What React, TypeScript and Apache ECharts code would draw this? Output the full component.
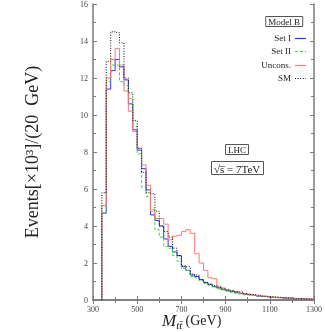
import React, { useEffect, useRef } from "react";
import * as echarts from "echarts";

const binStart = 340;
const binWidth = 20;

const smValues = [5.8, 12.9, 14.5, 14.45, 13.9, 12.0, 11.2, 9.7, 8.2, 6.9, 5.8, 5.75, 4.8, 4.0, 3.7, 3.4, 2.8, 2.4, 1.85, 1.8, 1.4, 1.35, 1.1, 0.95, 0.85, 0.78, 0.68, 0.6, 0.55, 0.5, 0.45, 0.42, 0.35, 0.3, 0.28, 0.25, 0.2, 0.2, 0.17, 0.15, 0.13, 0.12, 0.1, 0.08, 0.07, 0.06, 0.05, 0.04];
const setIValues = [4.7, 11.4, 12.4, 13.0, 12.6, 11.9, 10.6, 9.2, 8.1, 7.1, 5.95, 4.6, 4.3, 4.0, 3.3, 2.9, 2.6, 2.4, 1.8, 1.6, 1.35, 1.27, 1.1, 0.95, 0.85, 0.72, 0.65, 0.58, 0.5, 0.45, 0.4, 0.35, 0.3, 0.27, 0.25, 0.2, 0.2, 0.18, 0.14, 0.14, 0.12, 0.1, 0.1, 0.07, 0.07, 0.05, 0.05, 0.04];
const setIIValues = [4.7, 11.8, 12.7, 12.7, 11.8, 11.6, 10.9, 9.4, 7.9, 6.1, 5.6, 4.9, 3.8, 3.4, 2.9, 2.8, 2.4, 2.1, 1.7, 1.6, 1.27, 1.2, 1.05, 0.9, 0.8, 0.7, 0.6, 0.55, 0.48, 0.42, 0.37, 0.33, 0.28, 0.25, 0.22, 0.2, 0.17, 0.15, 0.13, 0.12, 0.1, 0.09, 0.08, 0.06, 0.05, 0.05, 0.04, 0.03];
const unconsValues = [5.1, 12.0, 13.0, 13.6, 12.7, 11.3, 10.2, 9.1, 8.2, 7.3, 6.2, 4.8, 4.4, 4.4, 4.1, 3.25, 3.45, 3.5, 3.7, 3.8, 3.6, 2.5, 2.0, 1.6, 1.2, 1.15, 0.75, 0.65, 0.55, 0.5, 0.45, 0.38, 0.33, 0.3, 0.26, 0.22, 0.2, 0.18, 0.15, 0.13, 0.12, 0.1, 0.09, 0.08, 0.07, 0.06, 0.05, 0.04];

const seriesNames = ["Set I", "Set II", "Uncons.", "SM"];

const FONT = "'Liberation Serif', 'DejaVu Serif', serif";

function toSteps(vals: number[]): number[][] {
  const pts: number[][] = [[binStart, 0]];
  vals.forEach((v, i) => {
    pts.push([binStart + binWidth * i, v]);
  });
  pts.push([binStart + binWidth * vals.length, vals[vals.length - 1]]);
  return pts;
}

export default function App() {
  const ref = useRef<HTMLDivElement>(null);
  useEffect(() => {
    if (!ref.current) return;
    const chart = echarts.init(ref.current, undefined, { renderer: "svg" });
    const axisCol = "#7a7a7a";
    const labelStyle = { fontFamily: FONT, fontSize: 8, color: "#444", formatter: (v: number) => String(v) };
    const baseX = {
      type: "value",
      min: 300,
      max: 1300,
      interval: 200,
      axisLine: { show: true, lineStyle: { color: axisCol, width: 1.5 } },
      axisTick: { show: true, inside: true, length: 4, lineStyle: { color: axisCol } },
      minorTick: { show: true, splitNumber: 2, length: 3, lineStyle: { color: axisCol } },
      splitLine: { show: false },
    };
    const baseY = {
      type: "value",
      min: 0,
      max: 16,
      interval: 2,
      axisLine: { show: true, lineStyle: { color: axisCol, width: 1.5 } },
      axisTick: { show: true, inside: true, length: 4, lineStyle: { color: axisCol } },
      minorTick: { show: true, splitNumber: 2, length: 3, lineStyle: { color: axisCol } },
      splitLine: { show: false },
    };
    const colors = ["#2f2fff", "#33dd33", "#ff7777", "#111111"];
    const lineTypes: any[] = ["solid", [3, 2], "solid", [1, 1.6]];
    const datasets = [setIValues, setIIValues, unconsValues, smValues];
    const legendGraphics: any[] = [];
    seriesNames.forEach((name, i) => {
      const y = 37.5 + 13.6 * i;
      legendGraphics.push({
        type: "text",
        x: 291,
        y,
        style: {
          text: name,
          fontFamily: FONT,
          fontSize: 9,
          fill: "#222",
          textAlign: "right",
          textVerticalAlign: "middle",
        },
      });
      const lineStyle: any = { stroke: colors[i], lineWidth: 1.2 };
      if (Array.isArray(lineTypes[i])) lineStyle.lineDash = lineTypes[i];
      legendGraphics.push({
        type: "line",
        shape: { x1: 295, y1: Math.round(y) + 0.5, x2: 306, y2: Math.round(y) + 0.5 },
        style: lineStyle,
      });
    });
    chart.setOption({
      animation: false,
      grid: { left: 93, right: 11, top: 4, bottom: 32 },
      title: [
        {
          text: "Model B",
          right: 22,
          top: 16,
          borderWidth: 1,
          borderColor: "#555",
          padding: [1, 3, 1, 3],
          textStyle: { fontFamily: FONT, fontSize: 9, fontWeight: "normal", color: "#222" },
        },
        {
          text: "LHC",
          left: 225,
          top: 144,
          borderWidth: 1,
          borderColor: "#555",
          padding: [1, 3, 1, 3],
          textStyle: { fontFamily: FONT, fontSize: 9, fontWeight: "normal", color: "#222" },
        },
        {
          text: "\u221As\u0305 = 7TeV",
          left: 211,
          top: 161,
          borderWidth: 1,
          borderColor: "#555",
          padding: [2, 3, 1, 3],
          textStyle: { fontFamily: FONT, fontSize: 11, fontWeight: "normal", color: "#222" },
        },
      ],
      xAxis: [
        {
          ...baseX,
          position: "bottom",
          axisLabel: { ...labelStyle, margin: 5 },
        },
        {
          ...baseX,
          position: "top",
          axisLabel: { show: false },
        },
      ],
      yAxis: [
        {
          ...baseY,
          position: "left",
          axisLabel: { ...labelStyle, margin: 5 },
          name: "Events[\u00D710\u00B3]/(20  GeV)",
          nameLocation: "middle",
          nameGap: 52,
          nameTextStyle: { fontFamily: FONT, fontSize: 18, fontWeight: "normal", color: "#222" },
        },
        {
          ...baseY,
          position: "right",
          axisLabel: { show: false },
        },
      ],
      graphic: [
        ...legendGraphics,
        {
          type: "text",
          left: 162,
          top: 312,
          style: {
            text: "{m|M}{s|tt\u0304} {g|(GeV)}",
            rich: {
              m: { fontFamily: FONT, fontSize: 17, fontStyle: "italic", fill: "#222" },
              s: { fontFamily: FONT, fontSize: 11, fontStyle: "italic", fill: "#222", verticalAlign: "bottom", padding: [8, 0, 0, 0] },
              g: { fontFamily: FONT, fontSize: 14, fill: "#222" },
            },
          },
        },
      ],
      series: datasets.map((vals, i) => ({
        name: seriesNames[i],
        type: "line",
        step: "end",
        data: toSteps(vals),
        symbol: "none",
        color: colors[i],
        lineStyle: { color: colors[i], width: 1, type: lineTypes[i] },
        z: i === 3 ? 5 : 3,
      })),
    });
    return () => chart.dispose();
  }, []);
  return <div ref={ref} style={{ position: "fixed", left: 0, top: 0, width: 325, height: 332 }} />;
}
